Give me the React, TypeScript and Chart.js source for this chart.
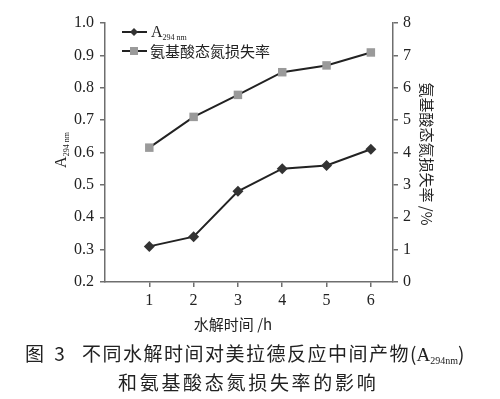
import React, { useEffect, useRef } from 'react';
import { Chart, registerables } from 'chart.js';
Chart.register(...registerables);

const hours = [1, 2, 3, 4, 5, 6];
const a294 = [0.31, 0.34, 0.48, 0.55, 0.56, 0.61];
const nLoss = [4.15, 5.1, 5.78, 6.48, 6.69, 7.09];
const leftRange = [0.2, 1.0];
const rightRange = [0, 8];
const xRange = [0, 6.5];
const legendLabels = ['A', '氨基酸态氮损失率'];
const xTitle = '水解时间 /h';
const rightTitle = '氨基酸态氮损失率 /%';
const captionLine1 = '不同水解时间对美拉德反应中间产物';
const captionLine2 = '和氨基酸态氮损失率的影响';

const SERIF = '"Liberation Serif", "Times New Roman", serif';
const CJK = '"Noto Sans CJK SC", sans-serif';
const AXIS = '#6e6e6e';
const INK = '#222';

function drawA(ctx: CanvasRenderingContext2D, x: number, y: number, center: boolean) {
  ctx.font = `16px ${SERIF}`;
  const wA = ctx.measureText('A').width;
  ctx.font = `8px ${SERIF}`;
  const wS = ctx.measureText('294 nm').width;
  const start = center ? x - (wA + wS) / 2 : x;
  ctx.font = `16px ${SERIF}`;
  ctx.fillText('A', start, y);
  ctx.font = `8px ${SERIF}`;
  ctx.fillText('294 nm', start + wA, y + 3);
}

const decor = {
  id: 'decor',
  afterDraw(chart: any) {
    const ctx: CanvasRenderingContext2D = chart.ctx;
    ctx.save();
    ctx.fillStyle = INK;
    ctx.textBaseline = 'alphabetic';
    const rows = [32, 51];
    rows.forEach((ry, i) => {
      ctx.strokeStyle = INK;
      ctx.lineWidth = 2;
      ctx.beginPath();
      ctx.moveTo(122, ry);
      ctx.lineTo(147, ry);
      ctx.stroke();
      if (i === 0) {
        ctx.fillStyle = '#333';
        ctx.beginPath();
        ctx.moveTo(134, ry - 4);
        ctx.lineTo(138, ry);
        ctx.lineTo(134, ry + 4);
        ctx.lineTo(130, ry);
        ctx.closePath();
        ctx.fill();
        ctx.fillStyle = INK;
        drawA(ctx, 151, ry + 5, false);
      } else {
        ctx.fillStyle = '#9a9a9a';
        ctx.fillRect(130, ry - 4, 8, 8);
        ctx.fillStyle = INK;
        ctx.font = `15px ${CJK}`;
        ctx.fillText(legendLabels[1], 150, ry + 6);
      }
    });
    ctx.save();
    ctx.translate(66, 150);
    ctx.rotate(-Math.PI / 2);
    drawA(ctx, 0, 0, true);
    ctx.restore();
    ctx.save();
    ctx.translate(427, 154);
    ctx.rotate(Math.PI / 2);
    ctx.font = `15px ${CJK}`;
    ctx.textAlign = 'center';
    ctx.textBaseline = 'middle';
    ctx.fillText(rightTitle, 0, 0);
    ctx.restore();
    ctx.font = `15px ${CJK}`;
    ctx.textAlign = 'center';
    ctx.textBaseline = 'middle';
    ctx.fillText(xTitle, 233, 324);
    ctx.restore();
  },
};

export default function App() {
  const ref = useRef<HTMLCanvasElement>(null);
  useEffect(() => {
    if (!ref.current) return;
    const chart = new Chart(ref.current, {
      type: 'line',
      data: {
        datasets: [
          {
            label: 'A294nm',
            data: hours.map((h, i) => ({ x: h, y: a294[i] })),
            yAxisID: 'y',
            borderColor: INK,
            borderWidth: 2,
            pointStyle: 'rectRot',
            pointRadius: 5.5,
            pointBackgroundColor: '#333',
            pointBorderColor: '#333',
            pointBorderWidth: 0,
          },
          {
            label: legendLabels[1],
            data: hours.map((h, i) => ({ x: h, y: nLoss[i] })),
            yAxisID: 'y1',
            borderColor: INK,
            borderWidth: 2,
            pointStyle: 'rect',
            pointRadius: 6,
            pointBackgroundColor: '#9a9a9a',
            pointBorderColor: '#9a9a9a',
            pointBorderWidth: 0,
          },
        ],
      },
      options: {
        animation: false,
        responsive: false,
        maintainAspectRatio: false,
        layout: { padding: { top: 23, left: 0, right: 0, bottom: 0 } },
        plugins: { legend: { display: false }, tooltip: { enabled: false } },
        scales: {
          x: {
            type: 'linear',
            min: xRange[0],
            max: xRange[1],
            afterBuildTicks: (s: any) => {
              s.ticks = hours.map((v) => ({ value: v }));
            },
            afterFit: (s: any) => {
              s.height = 117;
            },
            grid: { drawOnChartArea: false, drawTicks: true, tickLength: 5, color: AXIS, lineWidth: 1.5 },
            border: { display: true, color: AXIS, width: 1.5 },
            ticks: { font: { family: SERIF, size: 16 }, color: INK, padding: 4, maxRotation: 0 },
          },
          y: {
            position: 'left',
            min: leftRange[0],
            max: leftRange[1],
            afterFit: (s: any) => {
              s.width = 105;
            },
            grid: { drawOnChartArea: false, drawTicks: true, tickLength: 5, color: AXIS, lineWidth: 1.5 },
            border: { display: true, color: AXIS, width: 1.5 },
            ticks: {
              stepSize: 0.1,
              font: { family: SERIF, size: 16 },
              color: INK,
              padding: 6,
              callback: (v: any) => Number(v).toFixed(1),
            },
          },
          y1: {
            position: 'right',
            min: rightRange[0],
            max: rightRange[1],
            afterFit: (s: any) => {
              s.width = 107;
            },
            grid: { drawOnChartArea: false, drawTicks: true, tickLength: 5, color: AXIS, lineWidth: 1.5 },
            border: { display: true, color: AXIS, width: 1.5 },
            ticks: { stepSize: 1, font: { family: SERIF, size: 16 }, color: INK, padding: 5 },
          },
        },
      },
      plugins: [decor],
    });
    return () => chart.destroy();
  }, []);

  const capStyle: React.CSSProperties = {
    position: 'absolute',
    left: 0,
    width: 500,
    color: INK,
    fontFamily: CJK,
    fontSize: 19,
    lineHeight: '22px',
    whiteSpace: 'nowrap',
  };

  return (
    <div style={{ position: 'fixed', left: 0, top: 0, width: 500, height: 399, background: '#fff', overflow: 'hidden' }}>
      <canvas ref={ref} width={500} height={399} style={{ position: 'absolute', left: 0, top: 0 }} />
      <div style={{ ...capStyle, top: 342 }}>
        <span style={{ position: 'absolute', left: 25, letterSpacing: 3 }}>图 3</span>
        <span style={{ position: 'absolute', left: 82, letterSpacing: 1.5 }}>
          {captionLine1}
          <span style={{ letterSpacing: 0 }}>(</span>
          <span style={{ fontFamily: SERIF, fontSize: 19, letterSpacing: 0 }}>
            A<span style={{ fontSize: 10, position: 'relative', top: 3 }}>294nm</span>
          </span>
          <span style={{ letterSpacing: 0 }}>)</span>
        </span>
      </div>
      <div style={{ ...capStyle, top: 371 }}>
        <span style={{ position: 'absolute', left: 118, letterSpacing: 2.7 }}>{captionLine2}</span>
      </div>
    </div>
  );
}
